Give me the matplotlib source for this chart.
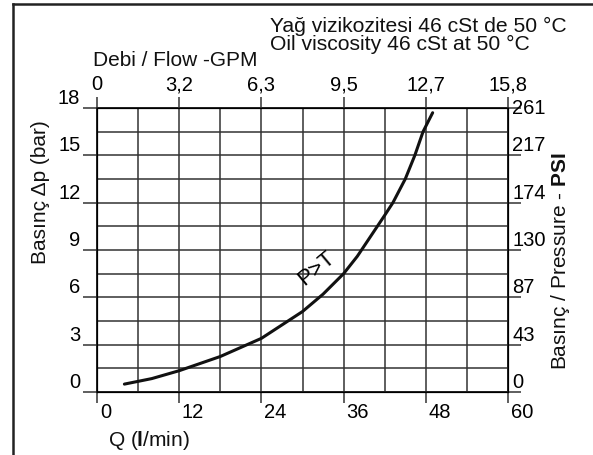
import matplotlib
matplotlib.use("Agg")
import matplotlib.pyplot as plt
import matplotlib.transforms as mtransforms
from matplotlib.lines import Line2D

plt.rcParams['font.family'] = ['Liberation Sans', 'DejaVu Sans']
plt.rcParams['mathtext.fontset'] = 'custom'
plt.rcParams['mathtext.rm'] = 'Liberation Sans'
plt.rcParams['mathtext.bf'] = 'Liberation Sans:bold'

# data
flow_lpm = [4, 8, 12, 18, 24, 30, 33, 36, 38, 40, 42, 43.2, 45, 46.4, 47.6, 49]
dp_bar = [0.5, 0.85, 1.35, 2.25, 3.4, 5.1, 6.2, 7.5, 8.6, 9.9, 11.2, 12, 13.5, 15, 16.5, 17.7]

q_ticks = [0, 12, 24, 36, 48, 60]
gpm_labels = ['0', '3,2', '6,3', '9,5', '12,7', '15,8']
bar_ticks = [0, 3, 6, 9, 12, 15, 18]
psi_labels = ['0', '43', '87', '130', '174', '217', '261']

W, H = 593, 455
fig = plt.figure(figsize=(W / 100, H / 100), dpi=100)

# outer frame (left and top edges visible)
fig.add_artist(Line2D([13 / W, 13 / W], [0, 1 - 4 / H], color='#222', lw=1.8, transform=fig.transFigure))
fig.add_artist(Line2D([13 / W, 1], [1 - 4 / H, 1 - 4 / H], color='#222', lw=1.8, transform=fig.transFigure))

x0, x1, y0, y1 = 97, 508, 108, 392
ax = fig.add_axes([x0 / W, 1 - y1 / H, (x1 - x0) / W, (y1 - y0) / H])
ax.set_xlim(0, 60)
ax.set_ylim(0, 18)

tick_fs = 14.5
grid_kw = dict(color='#333', lw=1.1)
ax.set_xticks(q_ticks)
ax.set_xticks([6, 18, 30, 42, 54], minor=True)
ax.set_yticks(bar_ticks)
ax.set_yticks([1.5, 4.5, 7.5, 10.5, 13.5, 16.5], minor=True)
ax.grid(which='both', **grid_kw)
ax.tick_params(which='minor', length=0)
ax.tick_params(axis='x', which='major', direction='out', length=8, width=1.1, color='#333', labelsize=tick_fs, pad=0)
ax.tick_params(axis='y', which='major', direction='out', length=10, width=1.1, color='#333', labelsize=tick_fs, pad=2)
for sp in ax.spines.values():
    sp.set_linewidth(1.4)
    sp.set_color('#222')

shift_r = mtransforms.ScaledTranslation(2 / 72, 0, fig.dpi_scale_trans)
for lab in ax.get_xticklabels():
    lab.set_ha('left')
    lab.set_transform(lab.get_transform() + shift_r)
for lab in ax.get_yticklabels():
    lab.set_va('bottom')

ax.plot(flow_lpm, dp_bar, color='#111', lw=2.2, solid_capstyle='round')
ax.text(32.0, 7.8, 'P>T', rotation=40, ha='center', va='center', fontsize=16)

# top axis: flow in GPM
axt = ax.twiny()
axt.set_xlim(ax.get_xlim())
axt.set_xticks(q_ticks, labels=gpm_labels)
axt.tick_params(axis='x', direction='out', length=8, width=1.1, color='#333', labelsize=tick_fs, pad=2)

# right axis: pressure in PSI
axr = ax.twinx()
axr.set_ylim(ax.get_ylim())
axr.set_yticks(bar_ticks, labels=psi_labels)
axr.tick_params(axis='y', direction='out', length=9, width=1.1, color='#333', labelsize=tick_fs, pad=-6)
for lab in axr.get_yticklabels():
    lab.set_va('bottom')
axr.get_yticklabels()[-1].set_va('center')

# texts
def ftext(px, py, s, **kw):
    fig.text(px / W, 1 - py / H, s, **kw)

ftext(270, 26, 'Yağ vizikozitesi 46 cSt de 50 °C', fontsize=15.2, va='center', color='#111')
ftext(270, 44, 'Oil viscosity 46 cSt at 50 °C', fontsize=15.2, va='center', color='#111')
ftext(93, 61, 'Debi / Flow -GPM', fontsize=15, va='center', color='#111')
ftext(108, 440, r'Q ($\mathbf{l}$/min)', fontsize=15, va='center', color='#111')
ftext(40, 192, 'Basınç Δp (bar)', fontsize=15, va='center', ha='center', rotation=90, color='#111')
ftext(561, 261, r'Basınç / Pressure - $\mathbf{PSI}$', fontsize=15, va='center', ha='center', rotation=90, color='#111')

fig.savefig('out.png', dpi=100)
